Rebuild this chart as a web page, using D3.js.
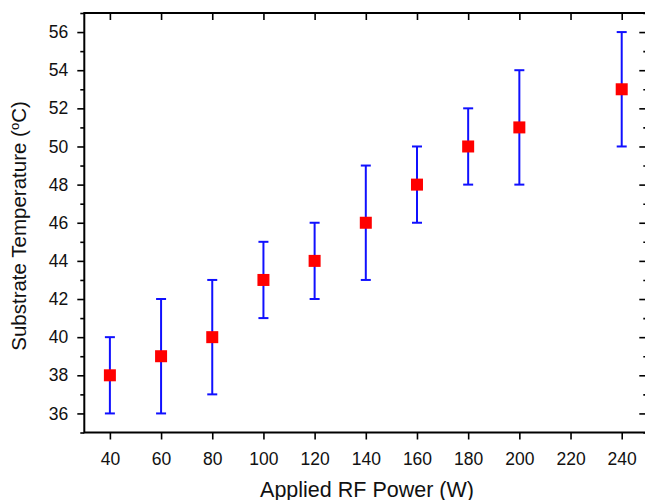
<!DOCTYPE html>
<html>
<head>
<meta charset="utf-8">
<script src="https://cdn.jsdelivr.net/npm/d3@7"></script>
<style>
  html, body { margin: 0; padding: 0; background: #fff; }
  svg { display: block; font-family: "Liberation Sans", Arial, sans-serif; }
</style>
</head>
<body>
<svg id="chart" width="645" height="500"></svg>
<script>
// Data
const power = [40, 60, 80, 100, 120, 140, 160, 180, 200, 240];
const temperature = [38, 39, 40, 43, 44, 46, 48, 50, 51, 53];
const errLow = [36, 36, 37, 41, 42, 43, 46, 48, 48, 50];
const errHigh = [40, 42, 43, 45, 46, 49, 50, 52, 54, 56];
const xTicks = [40, 60, 80, 100, 120, 140, 160, 180, 200, 220, 240];
const yTicks = [36, 38, 40, 42, 44, 46, 48, 50, 52, 54, 56];
const yMinorTicks = [35, 37, 39, 41, 43, 45, 47, 49, 51, 53, 55, 57];
const xTitle = "Applied RF Power (W)";

const svg = d3.select("#chart");
const pLeft = 84.3, pRight = 647.3, pTop = 13, pBottom = 432.5;

const x = d3.scaleLinear().domain([30, 250]).range([pLeft, pRight]);
const y = d3.scaleLinear().domain([35, 57]).range([pBottom, pTop]);

const axisColor = "#000";

const gx = svg.append("g").attr("transform", `translate(0,${pBottom})`)
  .call(d3.axisBottom(x).tickValues(xTicks).tickSize(7).tickPadding(10).tickFormat(d3.format("d")));
const gxt = svg.append("g").attr("transform", `translate(0,${pTop})`)
  .call(d3.axisTop(x).tickValues(xTicks).tickSize(-7).tickFormat(""));
const gy = svg.append("g").attr("transform", `translate(${pLeft},0)`)
  .call(d3.axisLeft(y).tickValues(yTicks).tickSize(7).tickPadding(9).tickFormat(d3.format("d")));
const gym = svg.append("g").attr("transform", `translate(${pLeft},0)`)
  .call(d3.axisLeft(y).tickValues(yMinorTicks).tickSize(4).tickFormat(""));
const gyr = svg.append("g").attr("transform", `translate(${pRight},0)`)
  .call(d3.axisRight(y).tickValues(yTicks).tickSize(-8).tickFormat(""));
const gyrm = svg.append("g").attr("transform", `translate(${pRight},0)`)
  .call(d3.axisRight(y).tickValues(yMinorTicks).tickSize(-4).tickFormat(""));

[gx, gxt, gy, gym, gyr, gyrm].forEach(g => {
  g.select(".domain").remove();
  g.selectAll(".tick line").attr("stroke", axisColor).attr("stroke-width", 1.6);
  g.selectAll(".tick text").attr("fill", "#111").style("font-size", "17.5px")
    .style("font-family", '"Liberation Sans", Arial, sans-serif');
});
gx.selectAll(".tick text").attr("dy", null).attr("y", 32.5);

svg.append("rect").attr("x", pLeft).attr("y", pTop).attr("width", pRight - pLeft).attr("height", pBottom - pTop)
  .attr("fill", "none").attr("stroke", axisColor).attr("stroke-width", 2);

// Error bars
const data = power.map((p, i) => ({ p, t: temperature[i], lo: errLow[i], hi: errHigh[i] }));
const eb = svg.append("g").attr("stroke", "#1010ff").attr("stroke-width", 2);
const capW = 10;
data.forEach(d => {
  eb.append("line").attr("x1", x(d.p)).attr("x2", x(d.p)).attr("y1", y(d.lo)).attr("y2", y(d.hi));
  eb.append("line").attr("x1", x(d.p) - capW / 2).attr("x2", x(d.p) + capW / 2).attr("y1", y(d.lo)).attr("y2", y(d.lo));
  eb.append("line").attr("x1", x(d.p) - capW / 2).attr("x2", x(d.p) + capW / 2).attr("y1", y(d.hi)).attr("y2", y(d.hi));
});

// Markers
const ms = 12;
svg.append("g").selectAll("rect").data(data).join("rect")
  .attr("x", d => x(d.p) - ms / 2).attr("y", d => y(d.t) - ms / 2)
  .attr("width", ms).attr("height", ms).attr("fill", "#ff0000");

// Axis titles
svg.append("text").attr("x", 367).attr("y", 496.5).attr("text-anchor", "middle")
  .style("font-size", "21.5px").attr("fill", "#111").text(xTitle);

const yt = svg.append("text").attr("transform", "translate(25.5,226) rotate(-90)")
  .attr("text-anchor", "middle").style("font-size", "20.5px").attr("fill", "#111");
yt.append("tspan").text("Substrate Temperature (");
yt.append("tspan").attr("dy", -7).style("font-size", "13px").text("o");
yt.append("tspan").attr("dy", 7).text("C)");
</script>
</body>
</html>
